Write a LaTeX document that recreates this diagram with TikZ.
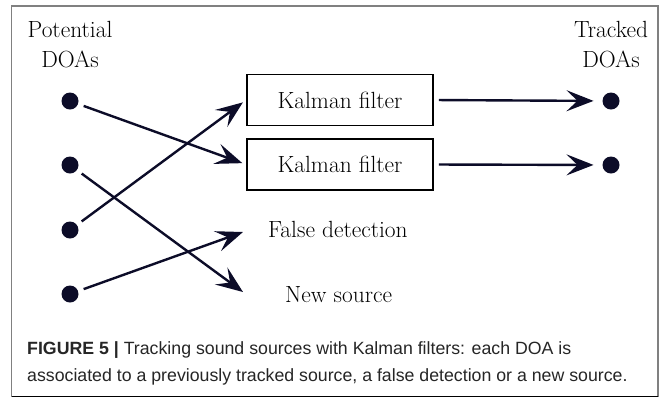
\documentclass[tikz,border=0pt]{standalone}
\usepackage{fontspec}
\newfontfamily\capfont{Liberation Sans}
\usetikzlibrary{arrows.meta}
\definecolor{inkblue}{RGB}{12,12,40}
\begin{document}
\begin{tikzpicture}[x=1bp,y=-1bp,
  lbl/.style={font=\fontsize{23.5}{28}\selectfont, inner sep=0pt},
  dot/.style={circle, fill=inkblue, minimum size=17bp, inner sep=0pt, outer sep=0pt},
  kbox/.style={draw, line width=1.8bp, minimum width=186bp, minimum height=51bp, inner sep=0pt, font=\fontsize{23.5}{28}\selectfont},
  arr/.style={line width=2.4bp, -{Stealth[length=27bp,width=21bp,inset=11bp]}, color=inkblue},
  captext/.style={font=\capfont\fontsize{17.8}{21}\selectfont, inner sep=0pt, anchor=base west, text=black!85}
]
\useasboundingbox (0,0) rectangle (664,398);
\fill[white] (0,0) rectangle (664,398);
\draw[gray, line width=1.2bp] (11.5,396.5) -- (11.5,6) -- (658,6) -- (658,396.5);
\draw[black, line width=1.4bp] (11.5,396.5) -- (658,396.5);

% headings
\node[lbl, anchor=base] (pot) at (70,37) {Potential};
\node[lbl, anchor=base] (pdoa) at (70,67) {DOAs};
\node[lbl, anchor=base] (trk) at (611,37) {Tracked};
\node[lbl, anchor=base] (tdoa) at (611,67) {DOAs};

% left dots
\node[dot] (d1) at (70,101) {};
\node[dot] (d2) at (70,165) {};
\node[dot] (d3) at (70,230) {};
\node[dot] (d4) at (70,294) {};

% right dots
\node[dot] (r1) at (611,101) {};
\node[dot] (r2) at (611,165) {};

% boxes
\node[kbox] (k1) at (340,100) {Kalman filter};
\node[kbox] (k2) at (340,164.5) {Kalman filter};

% outcome labels
\node[lbl, anchor=base west] (fd) at (268,237) {False detection};
\node[lbl, anchor=base west] (ns) at (285,302) {New source};
\coordinate (fdin) at (243,232);
\coordinate (nsin) at (243,292);

% connectors
\draw[arr, shorten <=6bp, shorten >=4bp] (d1) -- (k2.west);
\draw[arr, shorten <=6bp, shorten >=4bp] (d3) -- (k1.west);
\draw[arr, shorten <=6bp] (d2) -- (nsin);
\draw[arr, shorten <=6bp] (d4) -- (fdin);
\draw[arr, shorten <=5bp, shorten >=9bp] (k1.east) -- (r1);
\draw[arr, shorten <=5bp, shorten >=9bp] (k2.east) -- (r2);

% caption
\node[captext] (c1) at (27,354) {\textbf{FIGURE 5 |} Tracking sound sources with Kalman filters: each DOA is};
\node[captext] (c2) at (27,381) {associated to a previously tracked source, a false detection or a new source.};
\end{tikzpicture}
\end{document}
